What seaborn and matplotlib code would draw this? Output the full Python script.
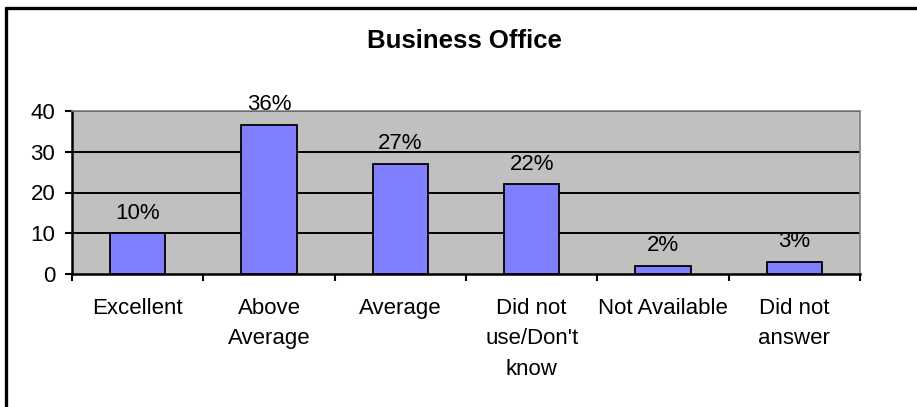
import matplotlib
matplotlib.use("Agg")
import matplotlib.pyplot as plt
import seaborn as sns
import pandas as pd
from matplotlib.lines import Line2D

categories = ["Excellent", "Above\nAverage", "Average", "Did not\nuse/Don't\nknow",
              "Not Available", "Did not\nanswer"]
values = [10, 36.6, 27, 22, 2, 3]
labels = ["10%", "36%", "27%", "22%", "2%", "3%"]
yticks = [0, 10, 20, 30, 40]

sns.set_style("white")
plt.rcParams["font.family"] = ["Liberation Sans", "DejaVu Sans"]
plt.rcParams["text.color"] = "black"
plt.rcParams["xtick.color"] = "black"
plt.rcParams["ytick.color"] = "black"
plt.rcParams["axes.labelcolor"] = "black"

df = pd.DataFrame({"cat": categories, "val": values})

fig = plt.figure(figsize=(9.17, 4.07), dpi=100)
ax = fig.add_axes([72/917, 1-274/407, (860-72)/917, (274-111)/407])
ax.set_facecolor("#C0C0C0")

sns.barplot(data=df, x="cat", y="val", color="#8080FF", saturation=1,
            width=0.42, edgecolor="black", linewidth=1.3, ax=ax, zorder=3)

ax.set_ylim(0, 40)
ax.set_xlim(-0.5, len(categories) - 0.5)
ax.set_yticks(yticks)
ax.set_yticklabels([str(t) for t in yticks])
for t in yticks[1:]:
    ax.axhline(t, color="black", lw=1.4, zorder=2)

# category ticks at boundaries, labels at centres
ax.set_xticks([i - 0.5 for i in range(len(categories) + 1)])
ax.set_xticklabels([])
ax.set_xticks(range(len(categories)), minor=True)
ax.set_xticklabels(categories, minor=True, linespacing=1.6)
ax.tick_params(axis="x", which="major", length=5, width=1.5, color="black", direction="out", bottom=True)
ax.tick_params(axis="x", which="minor", length=0, pad=17, labelsize=16, labelcolor="black")
ax.tick_params(axis="y", length=5, width=1.5, color="black", direction="out", left=True, pad=7,
               labelsize=16, labelcolor="black")

ax.set_xlabel("")
ax.set_ylabel("")

for s in ["left", "bottom"]:
    ax.spines[s].set_color("black")
    ax.spines[s].set_linewidth(1.8)
for s in ["top", "right"]:
    ax.spines[s].set_color("#808080")
    ax.spines[s].set_linewidth(1.2)

for i, (v, lab) in enumerate(zip(values, labels)):
    ax.annotate(lab, (i, v), xytext=(0, 7), textcoords="offset points",
                ha="center", va="bottom", fontsize=16, color="black", zorder=4)

fig.text(464/917, 1-41/407, "Business Office", ha="center", va="center",
         fontsize=18.5, fontweight="bold", color="black")

# outer chart border (left and top visible)
fig.add_artist(Line2D([6/917, 6/917], [0, 1-8/407], transform=fig.transFigure, color="black", lw=2.4))
fig.add_artist(Line2D([6/917, 1], [1-8/407, 1-8/407], transform=fig.transFigure, color="black", lw=2.4))

fig.savefig("out.png", dpi=100)
